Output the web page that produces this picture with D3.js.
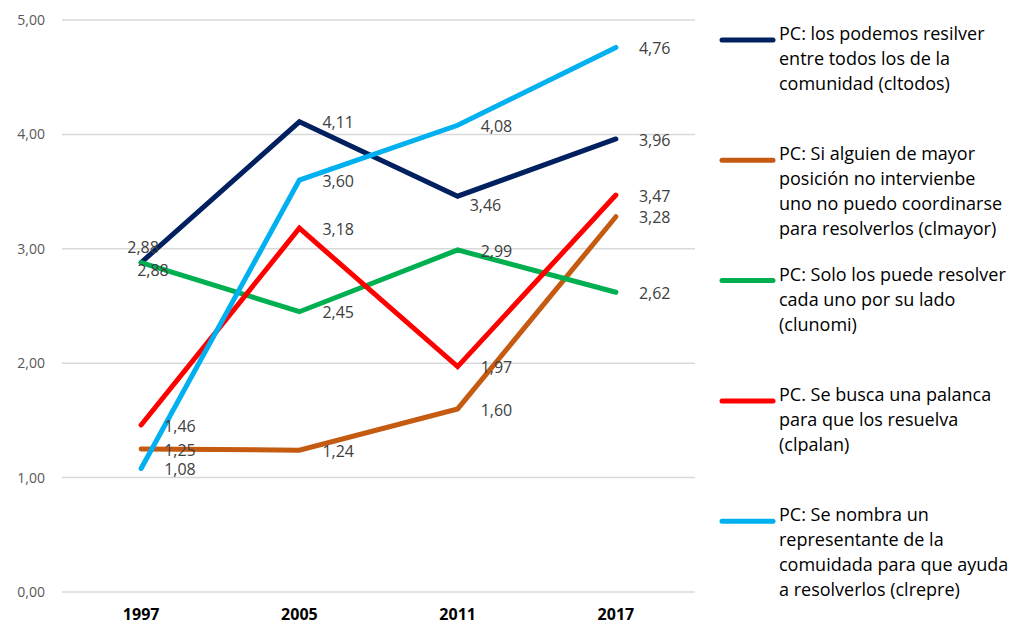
<!DOCTYPE html>
<html>
<head>
<meta charset="utf-8">
<script src="https://cdn.jsdelivr.net/npm/d3@7"></script>
<style>
  body { margin: 0; background: #fff; }
  text { font-family: "Open Sans", sans-serif; }
</style>
</head>
<body>
<svg id="chart" width="1015" height="627"></svg>
<script>
// values
const years = ["1997", "2005", "2011", "2017"];
const yTicks = [0, 1, 2, 3, 4, 5];

const clTodos  = [2.88, 4.11, 3.46, 3.96];
const clMayor  = [1.25, 1.24, 1.60, 3.28];
const clUnomi  = [2.88, 2.45, 2.99, 2.62];
const clPalan  = [1.46, 3.18, 1.97, 3.47];
const clRepre  = [1.08, 3.60, 4.08, 4.76];

const names = [
  ["PC: los podemos resilver", "entre todos los de la", "comunidad (cltodos)"],
  ["PC: Si alguien de mayor", "posición no intervienbe", "uno no puedo coordinarse", "para resolverlos (clmayor)"],
  ["PC: Solo los puede resolver", "cada uno por su lado", "(clunomi)"],
  ["PC. Se busca una palanca", "para que los resuelva", "(clpalan)"],
  ["PC: Se nombra un", "representante de la", "comuidada para que ayuda", "a resolverlos (clrepre)"]
];

const colors = ["#002060", "#C55A11", "#00B050", "#FF0000", "#00B0F0"];

const series = [clTodos, clMayor, clUnomi, clPalan, clRepre].map((v, i) => ({
  values: v, lines: names[i], color: colors[i]
}));

// label nudges where excel moved them off the default right position
const labelNudge = {
  "0-0": {dx: 2, dy: -15, anchor: "middle"},
  "2-0": {dx: -4, dy: 8, anchor: "start"},
  "0-2": {dx: 12, dy: 9, anchor: "start"}
};

const svg = d3.select("#chart");
const left = 62, right = 695;

const x = d3.scaleBand().domain(years).range([left, right]);
const y = d3.scaleLinear().domain([0, 5]).range([592, 20]);

// grid
svg.append("g").selectAll("line").data(yTicks).join("line")
  .attr("x1", left).attr("x2", right)
  .attr("y1", d => y(d)).attr("y2", d => y(d))
  .attr("stroke", "#d9d9d9").attr("stroke-width", 1.5);

svg.append("g").selectAll("text").data(yTicks).join("text")
  .attr("x", 45).attr("y", d => y(d)).attr("dy", "0.35em")
  .attr("text-anchor", "end")
  .attr("fill", "#595959").style("font-size", "14px")
  .text(d => d3.format(".2f")(d).replace(".", ","));

svg.append("g").selectAll("text").data(years).join("text")
  .attr("x", d => x(d) + x.bandwidth() / 2).attr("y", 614).attr("dy", "0.35em")
  .attr("text-anchor", "middle")
  .attr("fill", "#000").style("font-size", "16px").style("font-weight", "bold")
  .text(d => d);

const cx = d => x(d) + x.bandwidth() / 2;
const line = d3.line().x((d, i) => cx(years[i])).y(d => y(d));

svg.append("g").selectAll("path").data(series).join("path")
  .attr("d", d => line(d.values))
  .attr("fill", "none").attr("stroke", d => d.color)
  .attr("stroke-width", 5).attr("stroke-linecap", "round")
  .attr("stroke-linejoin", "miter");

// data labels
const lab = [];
series.forEach((s, si) => s.values.forEach((v, i) => lab.push({si, i, v})));
const nud = d => labelNudge[d.si + "-" + d.i];
svg.append("g").selectAll("text").data(lab).join("text")
  .attr("x", d => cx(years[d.i]) + (nud(d) ? nud(d).dx : 23))
  .attr("y", d => y(d.v) + (nud(d) ? nud(d).dy : 1))
  .attr("dy", "0.35em")
  .attr("text-anchor", d => nud(d) ? nud(d).anchor : "start")
  .attr("fill", "#404040").style("font-size", "16px")
  .text(d => d3.format(".2f")(d.v).replace(".", ","));

// legend
const leg = svg.append("g").selectAll("g").data(series).join("g")
  .attr("transform", (d, i) => `translate(720,${40 + i * 120.3})`);
leg.append("line").attr("x1", 2).attr("x2", 53)
  .attr("stroke", d => d.color).attr("stroke-width", 5).attr("stroke-linecap", "round");
leg.append("text").attr("x", 59).attr("dy", "0.35em")
  .attr("fill", "#000").style("font-size", "18px")
  .selectAll("tspan").data(d => d.lines).join("tspan")
  .attr("x", 59).attr("dy", (d, i) => i ? 25 : 0)
  .text(d => d);
</script>
</body>
</html>
